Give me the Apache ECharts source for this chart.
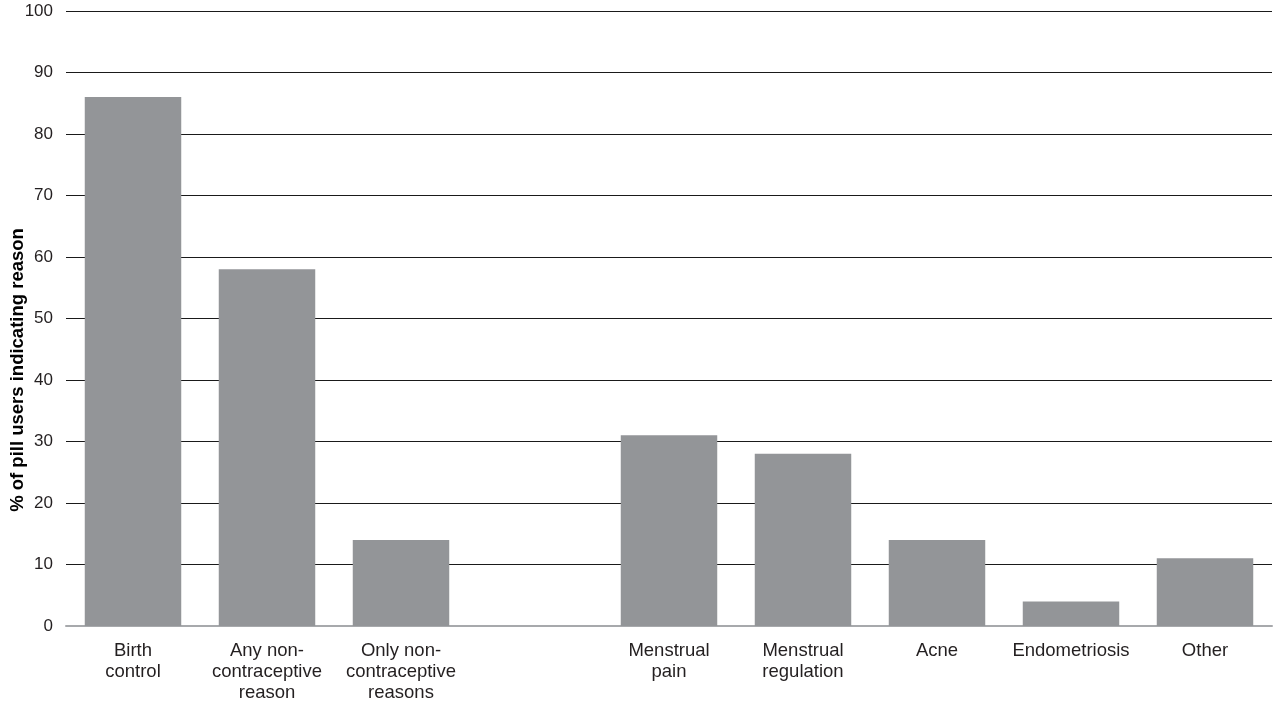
<!DOCTYPE html>
<html>
<head>
<meta charset="utf-8">
<script src="https://cdn.jsdelivr.net/npm/echarts@6/dist/echarts.min.js"></script>
<style>html,body{margin:0;padding:0;background:#fff}#c{width:1275px;height:709px}</style>
</head>
<body>
<div id="c"></div>
<script>
var categories = ['Birth\ncontrol', 'Any non-\ncontraceptive\nreason', 'Only non-\ncontraceptive\nreasons', '', 'Menstrual\npain', 'Menstrual\nregulation', 'Acne', 'Endometriosis', 'Other'];
var values = [86, 58, 14, null, 31, 28, 14, 4, 11];
var yTicks = [0, 100, 10];
var yTitle = '% of pill users indicating reason';

var chart = echarts.init(document.getElementById('c'));
chart.setOption({
  animation: false,
  grid: {left: 66, right: 3, top: 11, bottom: 83, containLabel: false, outerBoundsMode: 'none'},
  graphic: [{
    type: 'text',
    x: 18,
    y: 370,
    rotation: Math.PI / 2,
    style: {
      text: yTitle,
      fill: '#000',
      font: 'bold 18.5px "Liberation Sans", Arial, sans-serif',
      align: 'center',
      verticalAlign: 'middle'
    }
  }],
  xAxis: {
    type: 'category',
    data: categories,
    axisLine: {lineStyle: {color: '#a7a9ac', width: 2}},
    axisTick: {show: false},
    axisLabel: {interval: 0, color: '#231f20', fontSize: 18.5, lineHeight: 21, margin: 14, fontFamily: 'Liberation Sans, Arial, sans-serif'}
  },
  yAxis: {
    type: 'value',
    min: yTicks[0], max: yTicks[1], interval: yTicks[2],
    axisLine: {show: false},
    axisTick: {show: false},
    axisLabel: {color: '#231f20', fontSize: 17, margin: 13, fontFamily: 'Liberation Sans, Arial, sans-serif'},
    splitLine: {lineStyle: {color: '#1a1a1a', width: 1.2}}
  },
  series: [{
    type: 'bar',
    data: values,
    barWidth: '72%',
    itemStyle: {color: '#939598'},
    z: 3
  }]
});
</script>
</body>
</html>
